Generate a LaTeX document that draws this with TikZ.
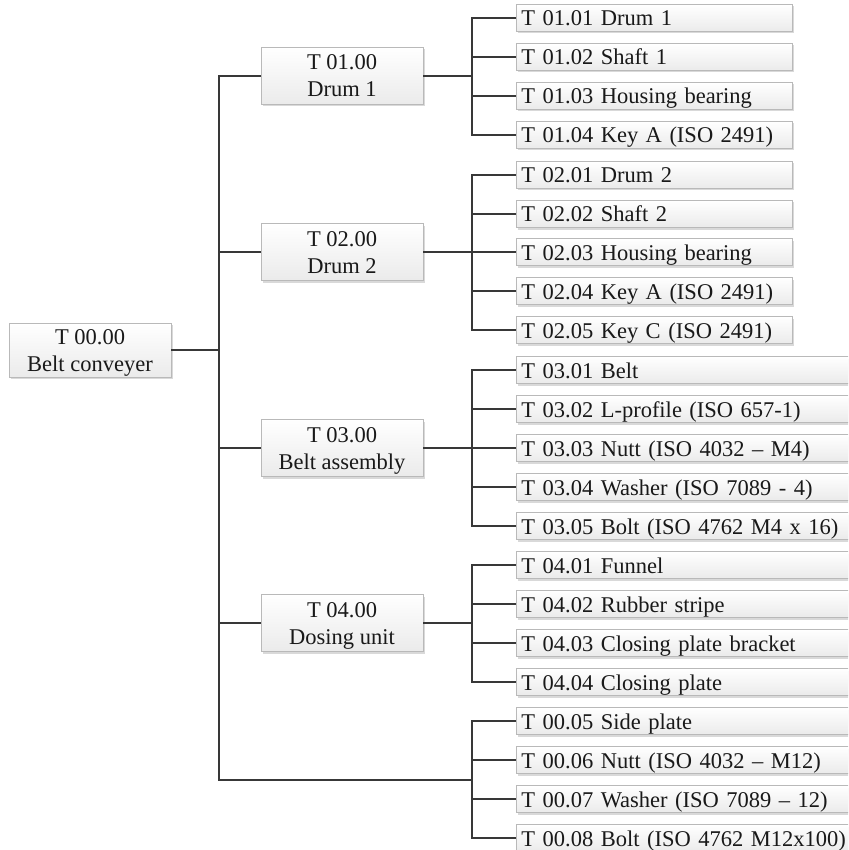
\documentclass[tikz,border=0pt]{standalone}
\usepackage{fontspec}
\setmainfont{Liberation Serif}
\usetikzlibrary{shadows}
\begin{document}
\begin{tikzpicture}[x=1pt,y=-1pt,
	box/.style={draw=gray!55,line width=0.8pt,top color=white,bottom color=gray!16,
		drop shadow={opacity=0.3,shadow xshift=1.5pt,shadow yshift=-2pt},
		font=\fontsize{22.5}{27}\selectfont,text=black!90,inner sep=0pt},
	part/.style={box,minimum width=162pt,minimum height=57pt,align=center,text height=49.5pt,text depth=7.5pt},
	item/.style={box,anchor=west,minimum height=27pt,text width=266pt,inner xsep=5pt,
		align=left,text height=18pt,text depth=2pt},
	wide/.style={text width=340pt},
	link/.style={draw=black!78,line width=2.7pt}]
	\useasboundingbox (0,0) rectangle (848,850);
	\clip (0,0) rectangle (848,850);
	\def\xt{219} \def\xb{472} \def\xl{516} %x_trunk, x_bus, x_leaf
	% root and sub-assemblies
	\node[part,minimum height=54pt,text height=48.5pt,text depth=5.5pt] (root) at (90,350) {T 00.00\\Belt conveyer};
	\node[part] (p1) at (342,76) {T 01.00\\Drum 1};
	\node[part] (p2) at (342,252) {T 02.00\\Drum 2};
	\node[part] (p3) at (342,448) {T 03.00\\Belt assembly};
	\node[part] (p4) at (342,623) {T 04.00\\Dosing unit};
	\coordinate (tr) at (\xt,350);
	\coordinate (b1) at (\xb,76);
	\coordinate (b2) at (\xb,252);
	\coordinate (b3) at (\xb,448);
	\coordinate (b4) at (\xb,623);
	\coordinate (b5) at (\xb,780);
	% parts
	\node[item] (i11) at (\xl,18) {T 01.01 Drum 1};
	\node[item] (i12) at (\xl,57) {T 01.02 Shaft 1};
	\node[item] (i13) at (\xl,96) {T 01.03 Housing bearing};
	\node[item] (i14) at (\xl,135) {T 01.04 Key A (ISO 2491)};
	\node[item] (i21) at (\xl,175) {T 02.01 Drum 2};
	\node[item] (i22) at (\xl,214) {T 02.02 Shaft 2};
	\node[item] (i23) at (\xl,252) {T 02.03 Housing bearing};
	\node[item] (i24) at (\xl,291) {T 02.04 Key A (ISO 2491)};
	\node[item] (i25) at (\xl,330) {T 02.05 Key C (ISO 2491)};
	\node[item,wide] (i31) at (\xl,370) {T 03.01 Belt};
	\node[item,wide] (i32) at (\xl,409) {T 03.02 L-profile (ISO 657-1)};
	\node[item,wide] (i33) at (\xl,448) {T 03.03 Nutt (ISO 4032 – M4)};
	\node[item,wide] (i34) at (\xl,487) {T 03.04 Washer (ISO 7089 - 4)};
	\node[item,wide] (i35) at (\xl,526) {T 03.05 Bolt (ISO 4762 M4 x 16)};
	\node[item,wide] (i41) at (\xl,565) {T 04.01 Funnel};
	\node[item,wide] (i42) at (\xl,604) {T 04.02 Rubber stripe};
	\node[item,wide] (i43) at (\xl,643) {T 04.03 Closing plate bracket};
	\node[item,wide] (i44) at (\xl,682) {T 04.04 Closing plate};
	\node[item,wide] (i51) at (\xl,721) {T 00.05 Side plate};
	\node[item,wide] (i52) at (\xl,760) {T 00.06 Nutt (ISO 4032 – M12)};
	\node[item,wide] (i53) at (\xl,799) {T 00.07 Washer (ISO 7089 – 12)};
	\node[item,wide] (i54) at (\xl,838) {T 00.08 Bolt (ISO 4762 M12x100)};
	% tree lines
	\draw[link] (root.east) -- (tr) |- (p1.west) (tr) |- (p2.west) (tr) |- (p3.west) (tr) |- (p4.west) (tr) |- (b5);
	\draw[link] (p1.east) -- (b1) |- (i11.west) (b1) |- (i12.west) (b1) |- (i13.west) (b1) |- (i14.west);
	\draw[link] (p2.east) -- (b2) |- (i21.west) (b2) |- (i22.west) (b2) |- (i23.west) (b2) |- (i24.west) (b2) |- (i25.west);
	\draw[link] (p3.east) -- (b3) |- (i31.west) (b3) |- (i32.west) (b3) |- (i33.west) (b3) |- (i34.west) (b3) |- (i35.west);
	\draw[link] (p4.east) -- (b4) |- (i41.west) (b4) |- (i42.west) (b4) |- (i43.west) (b4) |- (i44.west);
	\draw[link] (b5) |- (i51.west) (b5) |- (i52.west) (b5) |- (i53.west) (b5) |- (i54.west);
\end{tikzpicture}
\end{document}
